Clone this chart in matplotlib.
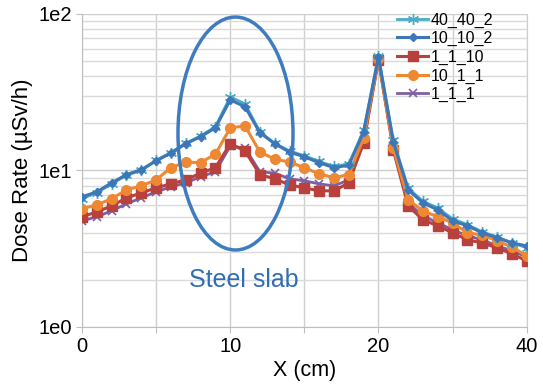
import numpy as np
import matplotlib
matplotlib.use("Agg")
import matplotlib.pyplot as plt
from matplotlib.patches import Ellipse
from matplotlib.ticker import FixedLocator, NullFormatter

plt.rcParams['font.family'] = ['Liberation Sans', 'DejaVu Sans']

# x positions (cm): 1 cm steps up to 20, then 2 cm steps (category axis)
xCm = list(range(0, 21)) + list(range(22, 41, 2))

# dose rates (uSv/h)
s40_40_2 = [6.6, 7.2, 8.2, 9.3, 10.0, 11.6, 13.0, 14.9, 16.6, 19.0, 29.5, 26.6, 17.6, 14.9, 13.3, 12.4,
            11.4, 10.6, 11.0, 18.0, 53.5, 15.6, 7.7, 6.35, 5.75, 4.9, 4.5, 4.05, 3.75, 3.45, 3.2]
s10_10_2 = [6.77, 7.29, 8.32, 9.4, 10.1, 11.5, 12.9, 14.8, 16.4, 18.7, 28.2, 25.5, 17.4, 14.8, 13.1, 12.2,
            11.2, 10.4, 10.8, 17.6, 53.1, 15.2, 7.51, 6.2, 5.59, 4.76, 4.42, 3.99, 3.71, 3.44, 3.29]
s1_1_10 = [5.05, 5.43, 5.93, 6.67, 7.18, 7.73, 8.2, 8.7, 9.6, 10.4, 14.8, 13.3, 9.4, 8.83, 8.08, 7.73,
           7.4, 7.4, 8.32, 15.0, 50.8, 13.5, 5.93, 4.83, 4.42, 3.99, 3.6, 3.44, 3.2, 2.93, 2.64]
s10_1_1 = [5.68, 6.02, 6.58, 7.51, 7.96, 8.7, 10.4, 11.3, 11.2, 12.7, 18.7, 19.2, 13.1, 11.8, 11.3, 10.4,
           9.5, 8.96, 9.4, 16.1, 51.6, 13.9, 6.48, 5.51, 5.05, 4.62, 3.99, 3.87, 3.54, 3.24, 2.84]
s1_1_1 = [4.75, 5.05, 5.51, 6.11, 6.67, 7.29, 7.85, 8.32, 9.1, 9.8, 14.3, 13.9, 9.8, 9.6, 8.83, 8.57,
          8.2, 7.96, 8.7, 15.4, 51.6, 13.9, 6.2, 5.12, 4.62, 4.17, 3.82, 3.6, 3.3, 3.06, 2.8]

names = ["40_40_2", "10_10_2", "1_1_10", "10_1_1", "1_1_1"]
tickPos = [0, 10, 20, 30]
tickText = [str(xCm[p]) for p in tickPos]

idx = np.arange(len(xCm))

fig = plt.figure(figsize=(5.43, 3.85), dpi=100)
ax = fig.add_axes([0.151, 0.151, 0.819, 0.813])

#plotting series (draw order: bottom first)
ax.plot(idx, s1_1_1, color="#7E5FA6", lw=2, marker="x", ms=5.5, mew=1.2, label=names[4], zorder=3)
ax.plot(idx, s1_1_10, color="#B8403D", lw=2.2, marker="s", ms=6.5, label=names[2], zorder=4)
ax.plot(idx, s10_1_1, color="#EE8833", lw=2.2, marker="o", ms=7, label=names[3], zorder=5)
ax.plot(idx, s40_40_2, color="#4BACC6", lw=2, marker=(6, 2, 0), ms=8, mew=1, label=names[0], zorder=6)
ax.plot(idx, s10_10_2, color="#3D77B8", lw=2.2, marker="D", ms=4.5, label=names[1], zorder=7)

ax.set_yscale("log")
ax.set_ylim(1, 100)
ax.set_xlim(0, 30)

ax.xaxis.set_major_locator(FixedLocator(range(0, 31, 5)))
ax.set_xticklabels([tickText[tickPos.index(p)] if p in tickPos else "" for p in range(0, 31, 5)])
ax.set_yticks([1, 10, 100])
ax.set_yticklabels(["1e0", "1e1", "1e2"])
ax.yaxis.set_minor_locator(FixedLocator([m * d for d in (1, 10) for m in range(2, 10)]))
ax.yaxis.set_minor_formatter(NullFormatter())
ax.tick_params(axis="both", labelsize=14.5, color="#BFBFBF", length=4, direction="out")
ax.tick_params(axis="y", which="minor", length=0)

ax.grid(True, which="major", color="#CFCFCF", lw=1)
ax.grid(True, which="minor", axis="y", color="#DADADA", lw=1)
ax.set_axisbelow(True)
ax.spines["top"].set_visible(False)
ax.spines["right"].set_color("#CFCFCF")
ax.spines["left"].set_color("#BFBFBF")
ax.spines["bottom"].set_color("#BFBFBF")

ax.set_xlabel("X (cm)", fontsize=15.5, labelpad=3)
ax.set_ylabel("Dose Rate (\u00b5Sv/h)", fontsize=16, labelpad=4)

handles, labels = ax.get_legend_handles_labels()
order = [labels.index(n) for n in names]
ax.legend([handles[i] for i in order], [labels[i] for i in order], loc="upper left",
          bbox_to_anchor=(0.695, 1.025), frameon=False, fontsize=11.5, handlelength=1.9,
          handletextpad=0.2, labelspacing=0.22, borderaxespad=0.0)

#annotation: steel slab ellipse
fig.patches.append(Ellipse((0.4337, 0.6532), 0.2118, 0.605, transform=fig.transFigure,
                           fill=False, edgecolor="#3F7CBF", lw=2.5, zorder=10))
fig.text(0.449, 0.273, "Steel slab", color="#2F6EB5", fontsize=18, ha="center", va="center")

fig.savefig("out.png", dpi=100)
